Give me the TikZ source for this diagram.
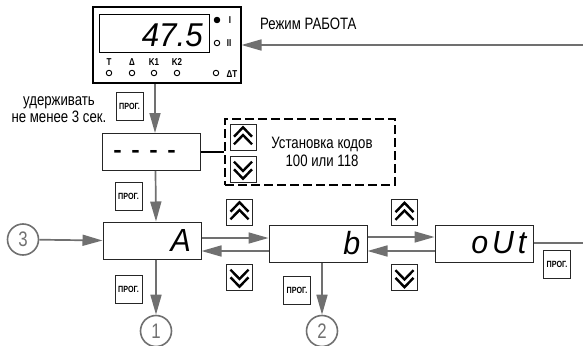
\documentclass[tikz,border=0pt]{standalone}
\usepackage{fontspec}
\setmainfont[FakeStretch=0.8]{Liberation Sans}
\newfontfamily\segfont[FakeStretch=0.95]{Liberation Sans}
\newfontfamily\segwide[FakeStretch=0.95,LetterSpace=12]{Liberation Sans}
\newfontfamily\dashfont[FakeStretch=1.15]{Liberation Sans}
\usetikzlibrary{arrows.meta}
\definecolor{flowgray}{HTML}{707070}
\tikzset{
  chevup/.pic={\draw[line width=2.4pt,miter limit=4] (-9,-0.3) -- (0,-9.7) -- (9,-0.3) (-9,7.3) -- (0,-2) -- (9,7.3);},
  chevdown/.pic={\draw[line width=2.4pt,miter limit=4] (-9,0.3) -- (0,9.7) -- (9,0.3) (-9,-7.3) -- (0,2) -- (9,-7.3);}
}
\begin{document}
\begin{tikzpicture}[x=1pt,y=-1pt,
  flow/.style={draw=flowgray,line width=1.7pt,-{Triangle[length=20pt,width=11pt]}},
  screen/.style={draw=black!85,line width=1pt,inner sep=0pt,minimum width=98pt,minimum height=37pt},
  reading/.style={inner sep=0pt,anchor=east,font=\fontsize{32}{32}\segfont\itshape},
  progkey/.style={draw=black!85,line width=1pt,inner sep=0pt,minimum width=27pt,minimum height=28pt,font=\fontsize{9}{9}\bfseries},
  arrowkey/.style={draw=black!85,line width=1pt,inner sep=0pt,minimum size=26pt},
  refmark/.style={circle,draw=flowgray,line width=1.6pt,inner sep=0pt,minimum size=31pt,text=flowgray,font=\fontsize{21}{21}\selectfont},
  led/.style={circle,draw=black,line width=0.9pt,inner sep=0pt,minimum size=5.5pt},
  ledtext/.style={inner sep=0pt,font=\fontsize{10}{10}\bfseries},
  caption/.style={inner sep=0pt,align=center,font=\fontsize{16.5}{17.5}\selectfont}]
\useasboundingbox (0,0) rectangle (583,345);
\node[draw=black,line width=2pt,inner sep=0pt,minimum width=148pt,minimum height=76pt] (dev) at (166.5,45) {};
\node[draw=black,line width=1pt,inner sep=0pt,minimum width=110pt,minimum height=38pt] (disp) at (154,34) {};
\node[reading,font=\fontsize{33}{33}\segfont\itshape] (val) at (203,35) {47.5};
\node[led,fill=black] (ledone) at (217,20) {};
\node[led] (ledtwo) at (217,43) {};
\node[ledtext] (ledonetxt) at (230,20) {I};
\node[ledtext] (ledtwotxt) at (229,43) {II};
\foreach \nm/\px/\lab in {t/109/T,d/132/Δ,ka/154/K1,kb/177/K2}{
  \node[ledtext] (lab\nm) at (\px,62) {\lab};
  \node[led] (led\nm) at (\px,73) {};
}
\node[led] (leddt) at (216,73) {};
\node[ledtext] (labdt) at (232,74) {ΔT};
\node[caption,anchor=west] (mode) at (260,24) {Режим РАБОТА};
\coordinate (modein) at (583,45);
\draw[flow] (modein) -- (dev.east);
\node[caption] (hold) at (59,109.5) {удерживать\\не менее 3 сек.};
\node[progkey] (prog1) at (129.5,106) {ПРОГ.};
\node[screen] (code) at (151.5,152) {};
\node[reading,font=\fontsize{22}{22}\dashfont\bfseries] (codeval) at (176,154) {-\hspace{9.6pt}-\hspace{9.6pt}-\hspace{9.6pt}-};
\draw[flow] ([xshift=-11.5pt]dev.south) -- ([xshift=3.5pt]code.north);
\node[draw=black,line width=1.7pt,dash pattern=on 9pt off 4pt,inner sep=0pt,minimum width=170pt,minimum height=66pt] (setbox) at (310,152) {};
\draw[black,line width=1.2pt] (code.east) -- (setbox.west);
\node[arrowkey] (setup) at (243,137) {};
\node[arrowkey] (setdown) at (243,169) {};
\pic at (setup) {chevup};
\pic at (setdown) {chevdown};
\node[caption] (settxt) at (322,152) {Установка кодов\\100 или 118};
\node[progkey] (prog2) at (128.5,196) {ПРОГ.};
\node[screen] (pa) at (152,240.5) {};
\node[reading] (paval) at (191,240) {A};
\node[screen] (pb) at (318,244) {};
\node[reading] (pbval) at (360.5,243) {b};
\node[screen] (pout) at (484,244) {};
\node[reading,font=\fontsize{32}{32}\segwide\itshape] (poutval) at (526.5,243) {oUt};
\draw[flow] ([xshift=4pt]code.south) -- ([xshift=4pt]pa.north);
\node[refmark] (three) at (23,239.5) {3};
\node[refmark] (one) at (156,331) {1};
\node[refmark] (two) at (322,331) {2};
\draw[flow] (three) -- (pa.west);
\draw[flow] ([xshift=4pt]pa.south) -- (one);
\draw[flow] ([xshift=4pt]pb.south) -- (two);
\draw[flow] ([yshift=2.5pt]pa.east) -- ([yshift=6pt]pb.west);
\draw[flow] ([yshift=-7pt]pb.west) -- ([yshift=-10.5pt]pa.east);
\draw[flow] ([yshift=7pt]pb.east) -- ([yshift=7pt]pout.west);
\draw[flow] ([yshift=-7pt]pout.west) -- ([yshift=-7pt]pb.east);
\coordinate (outend) at (583,243);
\draw[flowgray,line width=1.7pt] ([yshift=1pt]pout.east) -- (outend);
\node[arrowkey] (abup) at (239.5,212) {};
\node[arrowkey] (abdown) at (239.5,277) {};
\node[arrowkey] (boup) at (404.5,212.5) {};
\node[arrowkey] (bodown) at (404.5,277.5) {};
\pic at (abup) {chevup};
\pic at (abdown) {chevdown};
\pic at (boup) {chevup};
\pic at (bodown) {chevdown};
\node[progkey] (prog3) at (128.5,289) {ПРОГ.};
\node[progkey] (prog4) at (297,290) {ПРОГ.};
\node[progkey] (prog5) at (557,264) {ПРОГ.};
\end{tikzpicture}
\end{document}
